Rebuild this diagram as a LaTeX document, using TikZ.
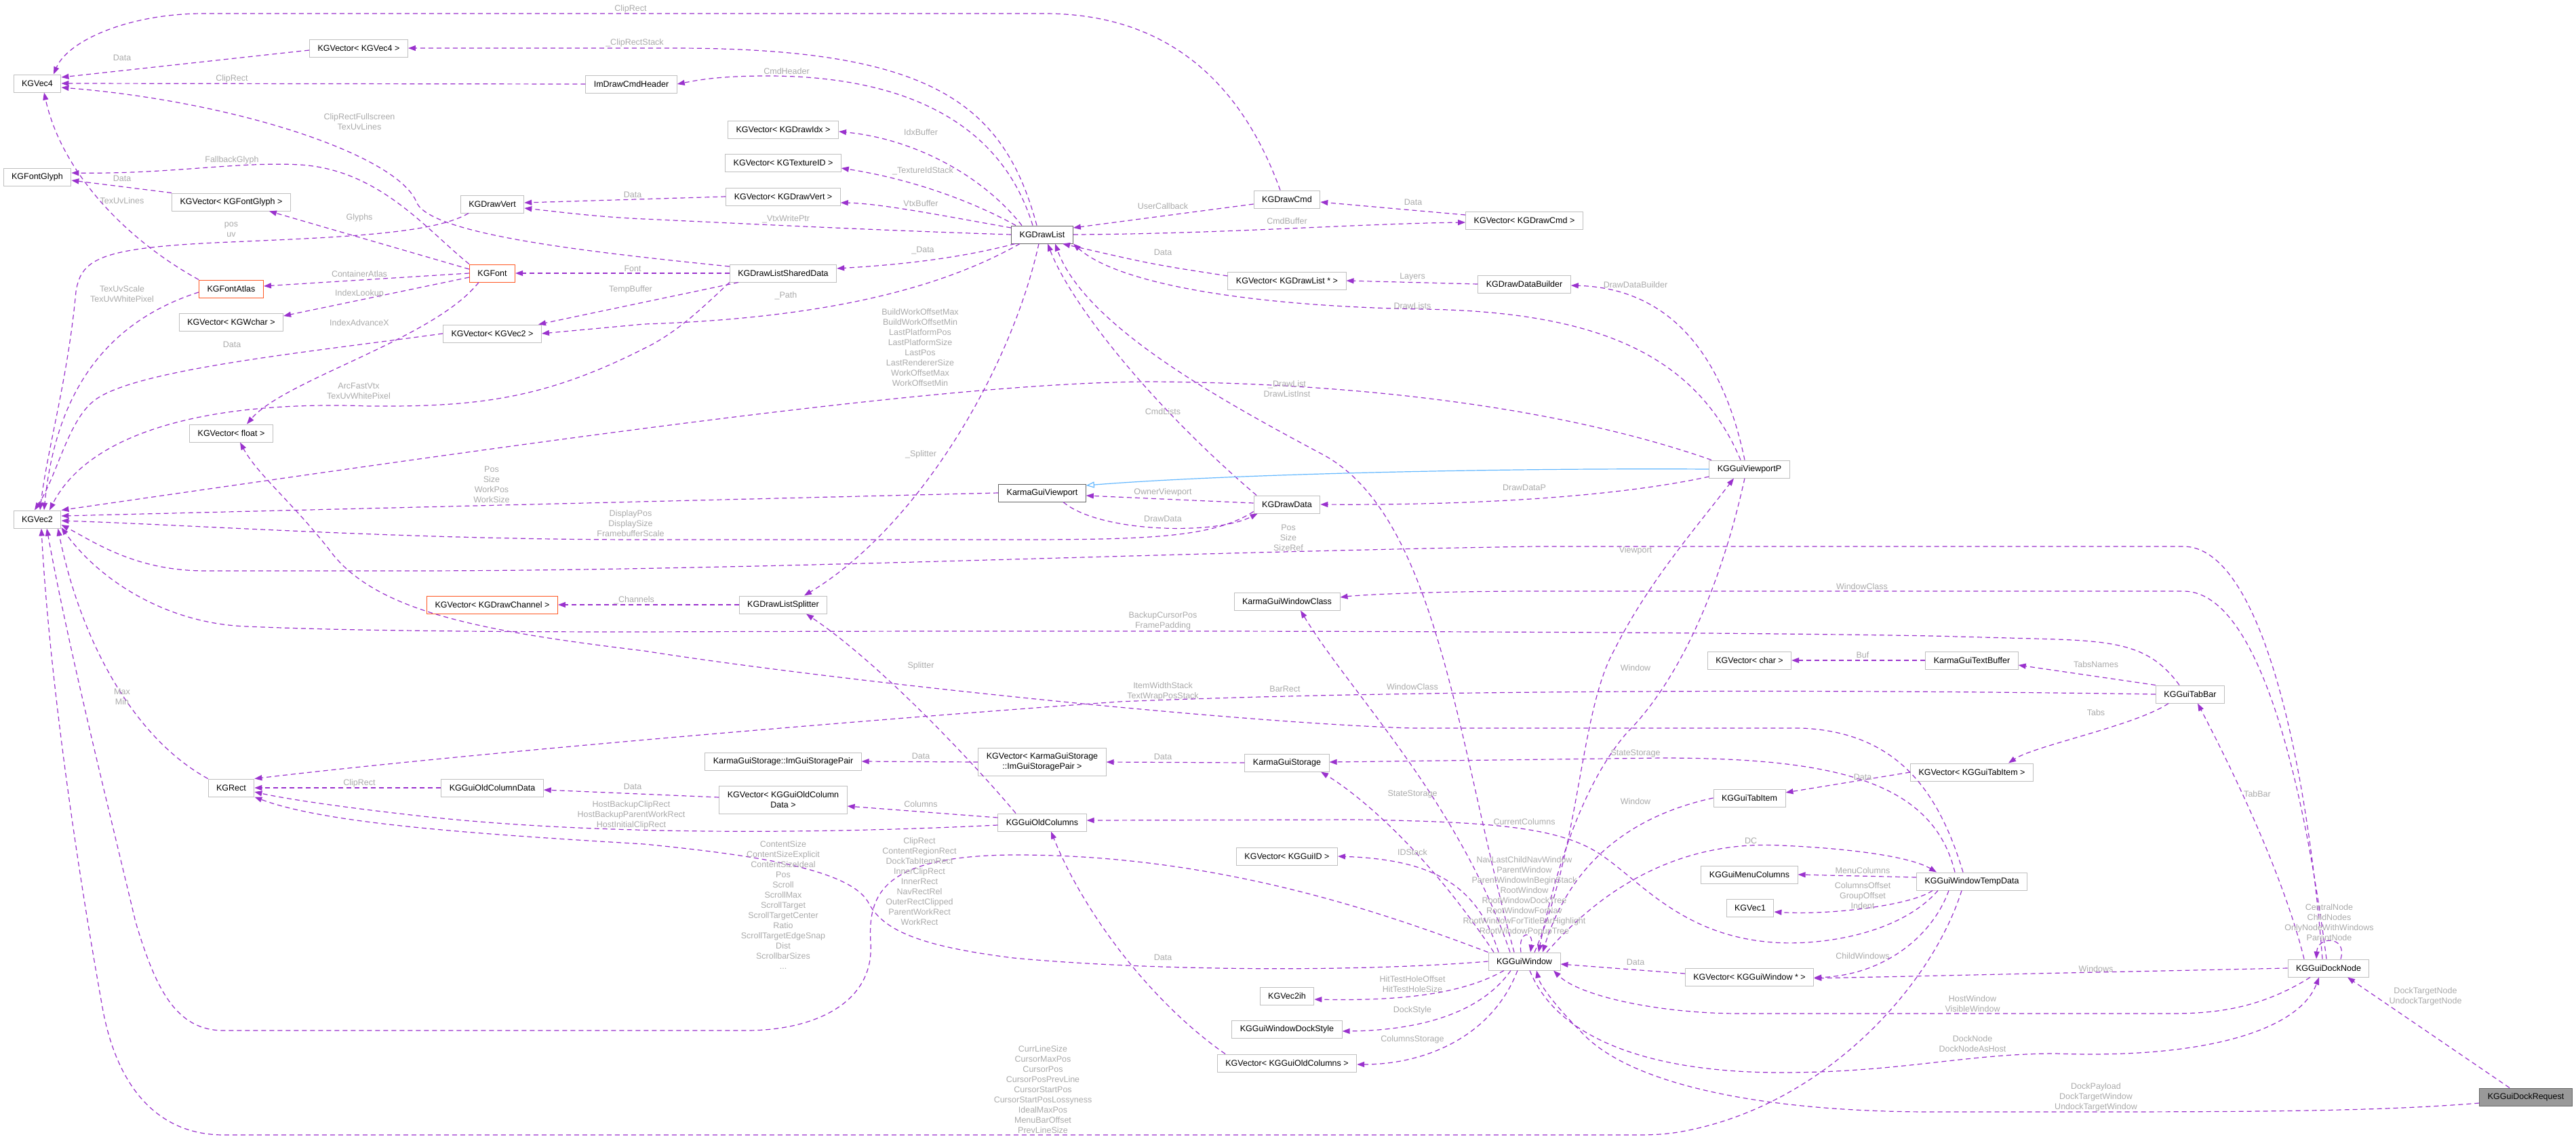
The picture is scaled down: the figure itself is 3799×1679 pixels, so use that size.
\documentclass[tikz,border=0pt]{standalone}
\usepackage{fontspec}
\setmainfont{Liberation Sans}
\usetikzlibrary{arrows.meta}
\definecolor{edgec}{RGB}{154,50,205}
\definecolor{lblc}{RGB}{170,170,170}
\definecolor{nodec}{RGB}{191,191,191}
\definecolor{darkc}{RGB}{102,102,102}
\definecolor{orangec}{RGB}{255,87,34}
\definecolor{bluec}{RGB}{99,184,255}
\definecolor{reqc}{RGB}{153,153,153}
\begin{document}
\begin{tikzpicture}[x=1pt,y=-1pt,
 nd/.style={draw=nodec,line width=1pt,fill=white,font=\fontsize{12.5}{15}\selectfont,inner xsep=12pt,inner ysep=2pt,minimum height=26pt,align=center},
 dk/.style={nd,draw=darkc},
 og/.style={nd,draw=orangec},
 ed/.style={draw=edgec,line width=1.2pt,dash pattern=on 7pt off 5pt,-{Triangle[length=11pt,width=8pt]}},
 lbl/.style={text=lblc,font=\fontsize{12.5}{15}\selectfont,align=center,inner sep=0pt},
 inh/.style={draw=bluec,line width=1.2pt,-{Triangle[open,length=12pt,width=9pt]}}]
\path[fill=white] (0,0) rectangle (3799,1679);
\useasboundingbox (0,0) rectangle (3799,1679);
% nodes
\node[nd] (vec4) at (55,123) {KGVec4};
\node[nd] (vvec4) at (529,71) {KGVector< KGVec4 >};
\node[nd] (cmdhdr) at (931,124) {ImDrawCmdHeader};
\node[nd] (glyph) at (55,261) {KGFontGlyph};
\node[nd] (vglyph) at (341,298) {KGVector< KGFontGlyph >};
\node[nd] (dvert) at (726,301) {KGDrawVert};
\node[og] (font) at (726,403) {KGFont};
\node[og] (atlas) at (341,426) {KGFontAtlas};
\node[nd] (vwchar) at (341,475) {KGVector< KGWchar >};
\node[nd] (vvec2) at (726,492) {KGVector< KGVec2 >};
\node[nd] (vfloat) at (341,639) {KGVector< float >};
\node[nd] (vec2) at (55,766) {KGVec2};
\node[og] (vchan) at (726,892) {KGVector< KGDrawChannel >};
\node[nd] (rect) at (341,1162) {KGRect};
\node[nd] (ocd) at (726,1162) {KGGuiOldColumnData};
\node[nd] (vidx) at (1155,191) {KGVector< KGDrawIdx >};
\node[nd] (vtex) at (1155,240) {KGVector< KGTextureID >};
\node[nd] (vdvert) at (1155,290) {KGVector< KGDrawVert >};
\node[dk] (dl) at (1537,346) {KGDrawList};
\node[nd] (dlsd) at (1155,403) {KGDrawListSharedData};
\node[nd] (dcmd) at (1898,294) {KGDrawCmd};
\node[nd] (vdl) at (1898,414) {KGVector< KGDrawList * >};
\node[nd] (vcmd) at (2248,325) {KGVector< KGDrawCmd >};
\node[nd] (ddb) at (2248,419) {KGDrawDataBuilder};
\node[dk] (vp) at (1537,727) {KarmaGuiViewport};
\node[nd] (dd) at (1898,744) {KGDrawData};
\node[nd] (spl) at (1155,892) {KGDrawListSplitter};
\node[nd] (wcls) at (1898,887) {KarmaGuiWindowClass};
\node[nd] (pair) at (1155,1123) {KarmaGuiStorage::ImGuiStoragePair};
\node[nd,minimum height=41pt] (vpair) at (1537,1124) {KGVector< KarmaGuiStorage\\::ImGuiStoragePair >};
\node[nd] (stor) at (1898,1125) {KarmaGuiStorage};
\node[nd,minimum height=41pt] (vocd) at (1155,1180) {KGVector< KGGuiOldColumn\\Data >};
\node[nd] (oc) at (1537,1213) {KGGuiOldColumns};
\node[nd] (vid) at (1898,1263) {KGVector< KGGuiID >};
\node[nd] (v2ih) at (1898,1469) {KGVec2ih};
\node[nd] (wds) at (1898,1518) {KGGuiWindowDockStyle};
\node[nd] (voc) at (1898,1568) {KGVector< KGGuiOldColumns >};
\node[nd] (vpp) at (2580,692) {KGGuiViewportP};
\node[nd] (vchar) at (2580,974) {KGVector< char >};
\node[nd] (tbuf) at (2908,974) {KarmaGuiTextBuffer};
\node[nd] (tabbar) at (3230,1024) {KGGuiTabBar};
\node[nd] (tabitem) at (2580,1177) {KGGuiTabItem};
\node[nd] (vtab) at (2908,1139) {KGVector< KGGuiTabItem >};
\node[nd] (menu) at (2580,1290) {KGGuiMenuColumns};
\node[nd] (vec1) at (2581,1339) {KGVec1};
\node[nd] (wtd) at (2908,1300) {KGGuiWindowTempData};
\node[nd] (win) at (2248,1418) {KGGuiWindow};
\node[nd] (vwin) at (2580,1441) {KGVector< KGGuiWindow * >};
\node[nd] (dn) at (3434,1428) {KGGuiDockNode};
\node[nd,fill=reqc,draw=darkc] (dr) at (3725,1618) {KGGuiDockRequest};
% edges
\draw[ed] ([xshift=-10pt]dcmd.north) .. controls (1830,120) and (1720,20) .. (1540,20) -- (300,20) .. controls (190,20) and (100,60) .. ([xshift=24pt]vec4.north);
\draw[ed] ([xshift=-8pt]dl.north) .. controls (1480,150) and (1370,72) .. (1000,71) -- (vvec4.east);
\draw[ed] ([yshift=-3pt]vvec4.west) -- ([yshift=9pt]vec4.east);
\draw[ed] (cmdhdr.west) -- (vec4.east);
\draw[ed] ([xshift=-14pt]dl.north) .. controls (1470,160) and (1300,112) .. (1132,112) .. controls (1060,112) and (1030,118) .. (cmdhdr.east);
\draw[ed] ([yshift=10pt]dlsd.west) .. controls (850,370) and (640,345) .. (615,300) .. controls (590,230) and (350,150) .. ([yshift=-6pt]vec4.east);
\draw[ed] (vglyph.north west) -- ([yshift=-5pt]glyph.east);
\draw[ed] (font.north west) .. controls (630,340) and (560,250) .. (442,243) .. controls (350,238) and (250,257) .. ([yshift=6pt]glyph.east);
\draw[ed] (atlas.north west) .. controls (180,350) and (90,250) .. ([xshift=10pt]vec4.south);
\draw[ed] ([xshift=-35pt]dvert.south) .. controls (640,345) and (500,350) .. (339,357) .. controls (150,365) and (120,380) .. (112,430) .. controls (100,560) and (70,660) .. ([xshift=4pt]vec2.north);
\draw[ed] ([yshift=6pt]font.west) -- ([xshift=56pt]vglyph.south);
\draw[ed] (font.west) -- ([yshift=4pt]atlas.east);
\draw[ed] ([yshift=-6pt]font.west) -- ([yshift=9pt]vwchar.east);
\draw[ed] ([xshift=-20pt]font.south) .. controls (640,500) and (420,560) .. ([xshift=23pt]vfloat.north);
\draw[ed] ([yshift=-5pt]atlas.west) .. controls (140,480) and (80,600) .. ([xshift=10pt]vec2.north);
\draw[ed] (vvec2.west) .. controls (450,520) and (200,545) .. (140,590) .. controls (100,620) and (85,700) .. ([xshift=-4pt]vec2.north);
\draw[ed] (dlsd.south west) .. controls (1040,450) and (1000,490) .. (950,514) .. controls (800,590) and (700,600) .. (545,599) .. controls (300,590) and (130,640) .. ([xshift=18pt]vec2.north);
\draw[ed] (dlsd.west) -- (font.east);
\draw[ed] ([xshift=-66pt]dlsd.south) -- ([xshift=68pt]vvec2.north);
\draw[ed] ([xshift=-33pt]dl.south) .. controls (1380,430) and (1200,470) .. (950,478) -- (vvec2.east);
\draw[ed] (dl.west) .. controls (1300,340) and (1100,330) .. (950,323) .. controls (880,320) and (820,312) .. ([yshift=-6pt]dvert.east);
\draw[ed] (vdvert.west) -- ([yshift=2pt]dvert.east);
\draw[ed] ([xshift=-30pt]dl.north) .. controls (1450,260) and (1350,205) .. ([yshift=-3pt]vidx.east);
\draw[ed] ([xshift=-39pt]dl.north) .. controls (1440,300) and (1350,265) .. ([yshift=-8pt]vtex.east);
\draw[ed] ([yshift=10pt]dl.west) .. controls (1400,320) and (1300,300) .. ([yshift=-9pt]vdvert.east);
\draw[ed] ([xshift=-40pt]dl.south) .. controls (1400,385) and (1300,392) .. ([yshift=7pt]dlsd.east);
\draw[ed] ([yshift=-7pt]dcmd.west) -- ([yshift=10pt]dl.east);
\draw[ed] (dl.east) .. controls (1800,345) and (2000,330) .. ([yshift=-3pt]vcmd.west);
\draw[ed] ([yshift=8pt]vcmd.west) -- ([yshift=-4pt]dcmd.east);
\draw[ed] ([yshift=7pt]vdl.west) .. controls (1700,390) .. ([xshift=30pt]dl.south);
\draw[ed] (ddb.west) -- (vdl.east);
\draw[ed] ([xshift=-7pt]vpp.north) .. controls (2540,520) and (2460,425) .. ([yshift=-2pt]ddb.east);
\draw[ed] ([xshift=-13pt]vpp.north) .. controls (2500,520) and (2350,460) .. (2100,456) .. controls (1850,452) and (1650,420) .. (dl.south east);
\draw[ed] ([xshift=-45pt]dd.north) .. controls (1700,600) and (1580,450) .. ([xshift=8pt]dl.south);
\draw[ed] ([xshift=-5pt]dl.south) .. controls (1490,550) and (1350,780) .. ([xshift=31pt]spl.north);
\draw[ed] ([xshift=-15pt]win.north) .. controls (2150,1100) and (2120,760) .. (1950,670) .. controls (1800,590) and (1600,480) .. ([xshift=19pt]dl.south);
\draw[ed] ([xshift=-56pt]vpp.north) .. controls (2300,600) and (2000,565) .. (1700,563) .. controls (1400,563) and (800,650) .. (vec2.north east);
\draw[ed] (vp.west) -- ([yshift=5pt]vec2.east);
\draw[ed] ([yshift=3pt]dd.south west) .. controls (1790,792) and (1700,796) .. (1500,796) -- (950,796) .. controls (600,796) and (300,775) .. ([yshift=-2pt]vec2.east);
\draw[ed] ([yshift=2pt]dd.west) -- ([yshift=-4pt]vp.east);
\draw[ed] ([xshift=31pt]vp.south) .. controls (1620,785) and (1790,790) .. ([xshift=6pt]dd.south west);
\draw[inh] (vpp.west) .. controls (2200,690) and (1800,700) .. ([yshift=11pt]vp.east);
\draw[ed] ([yshift=-11pt]vpp.west) .. controls (2350,740) and (2100,745) .. (dd.east);
\draw[ed] ([xshift=-9pt]dn.north) .. controls (3400,1100) and (3330,806) .. (3220,806) -- (2264,806) .. controls (1700,815) and (1100,842) .. (600,842) -- (303,842) .. controls (200,842) and (140,800) .. ([yshift=-8pt]vec2.east);
\draw[ed] ([xshift=15pt]win.north) .. controls (2330,1250) and (2330,1050) .. (2380,960) .. controls (2430,860) and (2500,780) .. ([xshift=-23pt]vpp.south);
\draw[ed] ([xshift=-7pt]vpp.south) .. controls (2530,900) and (2460,1020) .. (2400,1080) .. controls (2330,1160) and (2290,1300) .. ([xshift=21pt]win.north);
\draw[ed] ([xshift=-3pt]dn.north) .. controls (3390,1100) and (3320,872) .. (3220,872) -- (2264,872) .. controls (2100,872) and (2000,878) .. ([yshift=6pt]wcls.east);
\draw[ed] ([xshift=-21pt]win.north) .. controls (2150,1180) and (1990,1020) .. ([xshift=20pt]wcls.south);
\draw[ed] ([xshift=-16pt]tabbar.north) .. controls (3170,950) and (3120,945) .. (3000,942) -- (2850,938) .. controls (2400,930) and (1500,930) .. (950,932) .. controls (700,932) and (500,930) .. (364,924) .. controls (250,920) and (150,860) .. ([yshift=-12pt]vec2.east);
\draw[ed] (tbuf.west) -- (vchar.east);
\draw[ed] (tabbar.north west) -- ([yshift=-7pt]tbuf.east);
\draw[ed] (tabbar.west) .. controls (2600,1015) and (2000,1020) .. (1650,1035) .. controls (1300,1060) and (700,1110) .. (rect.north east);
\draw[ed] ([xshift=-13pt]wtd.north) .. controls (2860,1170) and (2800,1080) .. (2657,1074) -- (2082,1074) .. controls (1800,1065) and (1200,1000) .. (950,960) .. controls (700,930) and (550,900) .. (485,810) .. controls (430,740) and (380,700) .. ([xshift=13pt]vfloat.south);
\draw[ed] ([xshift=-25pt]wtd.north) .. controls (2850,1150) and (2700,1118) .. (2450,1118) -- ([yshift=1pt]stor.east);
\draw[ed] ([xshift=-45pt]win.north) .. controls (2100,1250) and (2000,1170) .. ([xshift=50pt]stor.south);
\draw[ed] ([xshift=-38pt]win.north) .. controls (2180,1310) and (2120,1268) .. (vid.east);
\draw[ed] ([xshift=-30pt]win.south) .. controls (2150,1470) and (2050,1476) .. ([yshift=-5pt]v2ih.east);
\draw[ed] ([xshift=-20pt]win.south) .. controls (2180,1500) and (2080,1520) .. ([yshift=-3pt]wds.east);
\draw[ed] ([xshift=-10pt]win.south) .. controls (2200,1530) and (2100,1570) .. ([yshift=-2pt]voc.east);
\draw[ed] ([yshift=5pt]vwin.west) -- ([yshift=-4pt]win.east);
\draw[ed] ([xshift=-34pt]wtd.south) .. controls (2850,1380) and (2780,1438) .. ([yshift=-1pt]vwin.east);
\draw[ed] (dn.west) -- ([yshift=-2pt]vwin.east);
\draw[ed] ([xshift=-27pt]dn.south) .. controls (3330,1490) and (3260,1495) .. (3200,1495) -- (2566,1495) .. controls (2450,1495) and (2330,1470) .. ([xshift=43pt]win.south);
\draw[ed] ([xshift=8pt]win.south) .. controls (2300,1540) and (2450,1582) .. (2627,1582) .. controls (2800,1582) and (2900,1554) .. (3032,1554) .. controls (3250,1562) and (3390,1520) .. ([xshift=-14pt]dn.south);
\draw[ed] ([xshift=-24pt]dr.north) -- ([xshift=28pt]dn.south);
\draw[ed] ([yshift=-9pt]dr.west) .. controls (3500,1640) and (3300,1640) .. (3000,1640) -- (2850,1640) .. controls (2600,1640) and (2400,1600) .. (2330,1520) .. controls (2290,1480) and (2270,1450) .. ([xshift=18pt]win.south);
\draw[ed] ([xshift=-36pt]dn.north) .. controls (3370,1300) and (3300,1150) .. ([xshift=11pt]tabbar.south);
\draw[ed] ([xshift=-32pt]tabbar.south) .. controls (3150,1070) and (3000,1100) .. ([xshift=54pt]vtab.north);
\draw[ed] (vtab.west) -- ([yshift=8pt]tabitem.east);
\draw[ed] (tabitem.west) .. controls (2420,1200) and (2320,1260) .. ([xshift=27pt]win.north);
\draw[ed] ([xshift=33pt]win.north) .. controls (2380,1290) and (2500,1240) .. (2627,1247) .. controls (2740,1252) and (2820,1265) .. ([xshift=-52pt]wtd.north);
\draw[ed] ([xshift=-50pt]wtd.south) .. controls (2800,1380) and (2680,1395) .. (2615,1390) .. controls (2480,1380) and (2420,1300) .. (2360,1260) .. controls (2300,1220) and (2200,1212) .. (2000,1209) -- ([yshift=3pt]oc.east);
\draw[ed] ([yshift=6pt]wtd.west) -- (menu.east);
\draw[ed] ([xshift=-58pt]wtd.south) .. controls (2820,1335) and (2700,1350) .. ([yshift=-6pt]vec1.east);
\draw[ed] ([xshift=-15pt]wtd.south) .. controls (2850,1450) and (2700,1620) .. (2500,1665) .. controls (2460,1674) and (2440,1674) .. (2400,1674) -- (330,1674) .. controls (230,1674) and (170,1600) .. (150,1480) .. controls (100,1200) and (70,950) .. ([xshift=6pt]vec2.south);
\draw[ed] (win.north west) .. controls (2050,1350) and (1800,1260) .. (1495,1261) .. controls (1300,1262) and (1280,1320) .. (1284,1390) .. controls (1290,1480) and (1200,1520) .. (1100,1520) -- (330,1520) .. controls (260,1520) and (230,1460) .. (200,1360) .. controls (150,1150) and (100,950) .. ([xshift=14pt]vec2.south);
\draw[ed] (win.west) .. controls (2000,1434) and (1700,1432) .. (1495,1413) .. controls (1350,1395) and (1300,1370) .. (1280,1330) .. controls (1250,1280) and (1100,1260) .. (950,1245) .. controls (700,1230) and (480,1215) .. (rect.south east);
\draw[ed] ([yshift=-4pt]oc.west) .. controls (1100,1235) and (800,1225) .. (606,1202) .. controls (500,1190) and (420,1178) .. ([yshift=-6pt]rect.east);
\draw[ed] ([yshift=7pt]oc.west) -- ([yshift=-9pt]vocd.east);
\draw[ed] ([yshift=4pt]vocd.west) -- ([yshift=-3pt]ocd.east);
\draw[ed] (ocd.west) -- (rect.east);
\draw[ed] (rect.north west) .. controls (200,1090) and (120,950) .. ([xshift=-5pt]vec2.south east);
\draw[ed] (spl.west) -- (vchan.east);
\draw[ed] ([xshift=-39pt]oc.north) .. controls (1440,1130) and (1300,980) .. ([xshift=34pt]spl.south);
\draw[ed] (stor.west) -- (vpair.east);
\draw[ed] (vpair.west) -- (pair.east);
\draw[ed] ([xshift=-91pt]voc.north) .. controls (1700,1480) and (1600,1350) .. ([xshift=13pt]oc.south);
\draw[ed] ([xshift=-5pt]win.north) .. controls (2238,1372) and (2262,1372) .. ([xshift=9pt]win.north);
\draw[ed] ([xshift=18pt]dn.north) .. controls (3462,1380) and (3418,1380) .. ([xshift=-18pt]dn.north);
% labels
\node[lbl] (t01) at (930,13) {ClipRect};
\node[lbl] (t02) at (936,63) {\_ClipRectStack};
\node[lbl] (t03) at (180,85) {Data};
\node[lbl] (t04) at (342,116) {ClipRect};
\node[lbl] (t05) at (1160,105) {CmdHeader};
\node[lbl] (t06) at (530,180) {ClipRectFullscreen\\TexUvLines};
\node[lbl] (t07) at (180,263) {Data};
\node[lbl] (t08) at (342,236) {FallbackGlyph};
\node[lbl] (t09) at (180,296) {TexUvLines};
\node[lbl] (t10) at (341,339) {pos\\uv};
\node[lbl] (t11) at (530,321) {Glyphs};
\node[lbl] (t12) at (530,404) {ContainerAtlas};
\node[lbl] (t13) at (530,433) {IndexLookup};
\node[lbl] (t14) at (530,476) {IndexAdvanceX};
\node[lbl] (t15) at (180,434) {TexUvScale\\TexUvWhitePixel};
\node[lbl] (t16) at (342,508) {Data};
\node[lbl] (t17) at (529,577) {ArcFastVtx\\TexUvWhitePixel};
\node[lbl] (t18) at (933,396) {Font};
\node[lbl] (t19) at (930,427) {TempBuffer};
\node[lbl] (t20) at (1159,436) {\_Path};
\node[lbl] (t21) at (1159,323) {\_VtxWritePtr};
\node[lbl] (t22) at (933,287) {Data};
\node[lbl] (t23) at (1358,195) {IdxBuffer};
\node[lbl] (t24) at (1361,252) {\_TextureIdStack};
\node[lbl] (t25) at (1358,300) {VtxBuffer};
\node[lbl] (t26) at (1361,369) {\_Data};
\node[lbl] (t27) at (1715,304) {UserCallback};
\node[lbl] (t28) at (1898,326) {CmdBuffer};
\node[lbl] (t29) at (2084,298) {Data};
\node[lbl] (t30) at (1715,372) {Data};
\node[lbl] (t31) at (2083,408) {Layers};
\node[lbl] (t32) at (2412,420) {DrawDataBuilder};
\node[lbl] (t33) at (2083,451) {DrawLists};
\node[lbl] (t34) at (1715,607) {CmdLists};
\node[lbl] (t35) at (1358,670) {\_Splitter};
\node[lbl] (t36) at (1898,574) {\_DrawList\\DrawListInst};
\node[lbl] (t37) at (1357,513) {BuildWorkOffsetMax\\BuildWorkOffsetMin\\LastPlatformPos\\LastPlatformSize\\LastPos\\LastRendererSize\\WorkOffsetMax\\WorkOffsetMin};
\node[lbl] (t38) at (725,715) {Pos\\Size\\WorkPos\\WorkSize};
\node[lbl] (t39) at (930,772) {DisplayPos\\DisplaySize\\FramebufferScale};
\node[lbl] (t40) at (1715,726) {OwnerViewport};
\node[lbl] (t41) at (1715,765) {DrawData};
\node[lbl] (t42) at (2248,719) {DrawDataP};
\node[lbl] (t43) at (1900,793) {Pos\\Size\\SizeRef};
\node[lbl] (t44) at (2412,812) {Viewport};
\node[lbl] (t45) at (2412,985) {Window};
\node[lbl] (t46) at (2746,865) {WindowClass};
\node[lbl] (t47) at (2083,1013) {WindowClass};
\node[lbl] (t48) at (1715,916) {BackupCursorPos\\FramePadding};
\node[lbl] (t49) at (2747,966) {Buf};
\node[lbl] (t50) at (3091,980) {TabsNames};
\node[lbl] (t51) at (1895,1016) {BarRect};
\node[lbl] (t52) at (1715,1020) {ItemWidthStack\\TextWrapPosStack};
\node[lbl] (t53) at (2412,1111) {StateStorage};
\node[lbl] (t54) at (2083,1171) {StateStorage};
\node[lbl] (t55) at (2083,1257) {IDStack};
\node[lbl] (t56) at (2083,1452) {HitTestHoleOffset\\HitTestHoleSize};
\node[lbl] (t57) at (2083,1490) {DockStyle};
\node[lbl] (t58) at (2083,1533) {ColumnsStorage};
\node[lbl] (t59) at (2412,1419) {Data};
\node[lbl] (t60) at (2747,1410) {ChildWindows};
\node[lbl] (t61) at (3091,1429) {Windows};
\node[lbl] (t62) at (2909,1481) {HostWindow\\VisibleWindow};
\node[lbl] (t63) at (2909,1540) {DockNode\\DockNodeAsHost};
\node[lbl] (t64) at (3577,1470) {DockTargetNode\\UndockTargetNode};
\node[lbl] (t65) at (3091,1618) {DockPayload\\DockTargetWindow\\UndockTargetWindow};
\node[lbl] (t66) at (3329,1171) {TabBar};
\node[lbl] (t67) at (3091,1051) {Tabs};
\node[lbl] (t68) at (2747,1146) {Data};
\node[lbl] (t69) at (2412,1182) {Window};
\node[lbl] (t70) at (2582,1240) {DC};
\node[lbl] (t71) at (2248,1212) {CurrentColumns};
\node[lbl] (t72) at (2747,1284) {MenuColumns};
\node[lbl] (t73) at (2747,1321) {ColumnsOffset\\GroupOffset\\Indent};
\node[lbl] (t74) at (1538,1607) {CurrLineSize\\CursorMaxPos\\CursorPos\\CursorPosPrevLine\\CursorStartPos\\CursorStartPosLossyness\\IdealMaxPos\\MenuBarOffset\\PrevLineSize};
\node[lbl] (t75) at (1155,1335) {ContentSize\\ContentSizeExplicit\\ContentSizeIdeal\\Pos\\Scroll\\ScrollMax\\ScrollTarget\\ScrollTargetCenter\\Ratio\\ScrollTargetEdgeSnap\\Dist\\ScrollbarSizes\\...};
\node[lbl] (t76) at (1356,1300) {ClipRect\\ContentRegionRect\\DockTabItemRect\\InnerClipRect\\InnerRect\\NavRectRel\\OuterRectClipped\\ParentWorkRect\\WorkRect};
\node[lbl] (t77) at (931,1202) {HostBackupClipRect\\HostBackupParentWorkRect\\HostInitialClipRect};
\node[lbl] (t78) at (1358,1186) {Columns};
\node[lbl] (t79) at (933,1160) {Data};
\node[lbl] (t80) at (530,1155) {ClipRect};
\node[lbl] (t81) at (180,1028) {Max\\Min};
\node[lbl] (t82) at (935,885) {\_Channels};
\node[lbl] (t83) at (1358,982) {Splitter};
\node[lbl] (t84) at (1715,1116) {Data};
\node[lbl] (t85) at (1358,1115) {Data};
\node[lbl] (t86) at (1715,1412) {Data};
\node[lbl] (t87) at (2248,1322) {NavLastChildNavWindow\\ParentWindow\\ParentWindowInBeginStack\\RootWindow\\RootWindowDockTree\\RootWindowForNav\\RootWindowForTitleBarHighlight\\RootWindowPopupTree};
\node[lbl] (t88) at (3435,1361) {CentralNode\\ChildNodes\\OnlyNodeWithWindows\\ParentNode};
\end{tikzpicture}
\end{document}
